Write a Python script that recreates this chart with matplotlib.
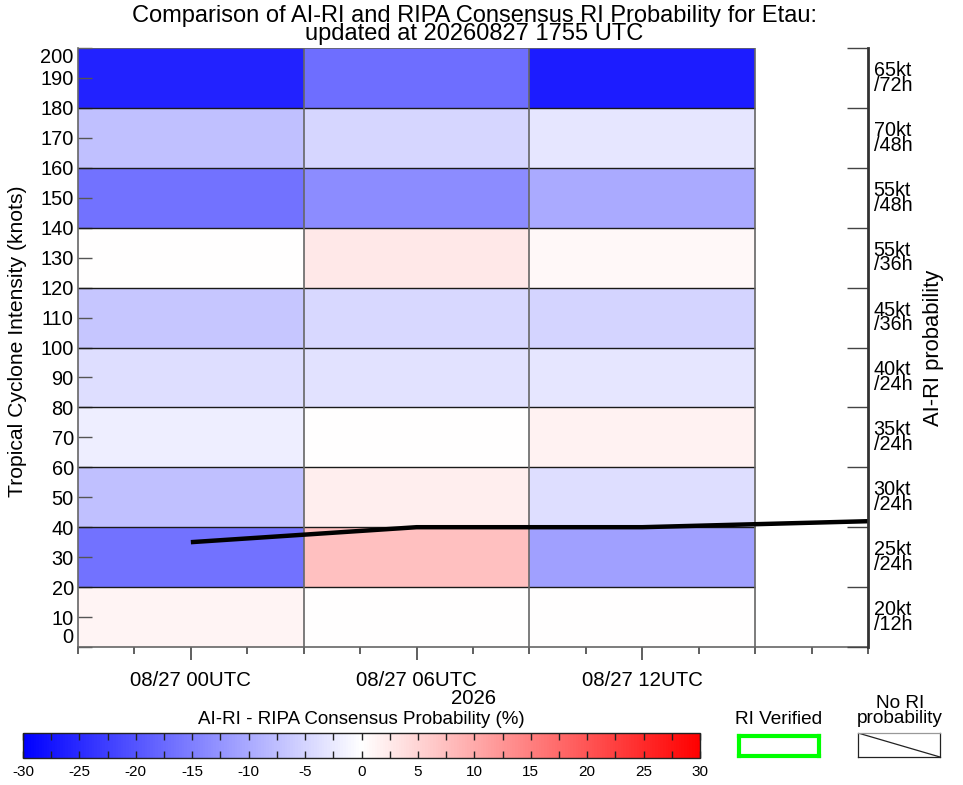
import numpy as np
import matplotlib
matplotlib.use("Agg")
import matplotlib.pyplot as plt
from matplotlib.colors import LinearSegmentedColormap, Normalize
from matplotlib.ticker import MultipleLocator, FixedLocator

plt.rcParams['font.family'] = ['Liberation Sans', 'DejaVu Sans']

# ---------------- data ----------------
col_hours = [0, 6, 12]                       # hours after 08/27 00UTC (cell centres)
bin_edges = [0, 20, 40, 60, 80, 100, 120, 140, 160, 180, 200]
# AI-RI minus RIPA consensus probability (%), per intensity bin, bottom -> top
diff_00utc = [1.4, -16.5, -7.3, -2.0, -3.9, -6.7, 0.0, -16.5, -7.3, -25.8]
diff_06utc = [0.0, 7.4, 2.0, 0.0, -3.4, -4.6, 2.6, -13.5, -4.9, -17.1]
diff_12utc = [0.0, -11.2, -3.9, 1.5, -3.0, -5.0, 0.8, -10.0, -2.9, -26.5]
ri_labels = ["20kt\n/12h", "25kt\n/24h", "30kt\n/24h", "35kt\n/24h", "40kt\n/24h",
             "45kt\n/36h", "55kt\n/36h", "55kt\n/48h", "70kt\n/48h", "65kt\n/72h"]
track_hours = [0, 6, 12, 18]
track_vmax = [35, 40, 40, 42]
xtick_hours = [0, 6, 12]
xtick_labels = ["08/27 00UTC", "08/27 06UTC", "08/27 12UTC"]
yticks = list(range(0, 201, 10))
cbar_ticks = list(range(-30, 31, 5))

W, H = 963, 785
fig = plt.figure(figsize=(W / 100, H / 100), dpi=100)

def fx(px):
    return px / W

def fy(py):
    return 1 - py / H

ax = fig.add_axes([fx(78), fy(647), fx(868) - fx(78), fy(48) - fy(647)])

cmap = LinearSegmentedColormap.from_list("bwr_ai", [(0, 0, 1), (1, 1, 1), (1, 0, 0)], N=256)
norm = Normalize(vmin=-30, vmax=30)

C = np.array([diff_00utc, diff_06utc, diff_12utc]).T
x_edges = [h - 3 for h in col_hours] + [col_hours[-1] + 3]
ax.pcolormesh(x_edges, bin_edges, C, cmap=cmap, norm=norm, shading='flat', zorder=1)

# cell borders
ax.hlines(bin_edges[1:-1], x_edges[0], x_edges[-1], colors='#1a1a1a', lw=1.0, zorder=2)
ax.hlines([bin_edges[-1]], x_edges[0], x_edges[-1], colors='#666666', lw=1.2, zorder=2)
ax.vlines(x_edges[1:], bin_edges[0], bin_edges[-1], colors='#666666', lw=1.2, zorder=2)

# intensity line
ax.plot(track_hours, track_vmax, color='black', lw=3.2, zorder=4, solid_capstyle='butt')

ax.set_xlim(-3, 18)
ax.set_ylim(0, 200)

ax.spines['top'].set_visible(False)
ax.spines['right'].set_visible(False)
ax.spines['left'].set_color('#666666')
ax.spines['bottom'].set_color('#666666')
ax.spines['left'].set_linewidth(1.2)
ax.spines['bottom'].set_linewidth(1.2)

ax.set_yticks(yticks)
ax.set_yticklabels([str(v) for v in yticks])
ax.tick_params(axis='y', direction='in', length=10, width=1, color='#555555',
               labelsize=14.4, pad=3)
for lab in ax.get_yticklabels():
    if lab.get_text() == '0':
        lab.set_va('bottom')
    elif lab.get_text() == '200':
        lab.set_va('top')

ax.set_xticks(xtick_hours)
ax.set_xticklabels(xtick_labels)
ax.xaxis.set_minor_locator(FixedLocator(np.arange(-3, 18.01, 1.5)))
ax.tick_params(axis='x', which='major', direction='out', length=9, width=1.2,
               color='#444444', labelsize=14.7, pad=8)
ax.tick_params(axis='x', which='minor', direction='out', length=5, width=1.2, color='#444444')
ax.set_xlabel("2026", fontsize=14.7)
ax.xaxis.set_label_coords(0.5, -0.0705)
ax.set_ylabel("Tropical Cyclone Intensity (knots)", fontsize=15.2)
ax.yaxis.set_label_coords(-0.0645, 0.51)

# right axis with RI thresholds
ax2 = ax.twinx()
ax2.set_ylim(0, 200)
for s in ['top', 'left', 'bottom']:
    ax2.spines[s].set_visible(False)
ax2.spines['right'].set_color('#333333')
ax2.spines['right'].set_linewidth(2)
ax2.set_yticks(bin_edges)
ax2.set_yticklabels([''] * len(bin_edges))
ax2.tick_params(axis='y', which='major', direction='in', length=15, width=1, color='#444444')
centers = [(bin_edges[i] + bin_edges[i + 1]) / 2 for i in range(len(ri_labels))]
ax2.set_yticks(centers, minor=True)
ax2.set_yticklabels(ri_labels, minor=True)
ax2.tick_params(axis='y', which='minor', length=0, labelsize=14.2, pad=4)
for lab in ax2.get_yticklabels(minor=True):
    lab.set_linespacing(0.72)

fig.text(fx(933), fy(348), "AI-RI probability", rotation=90, ha='center', va='center', fontsize=15.8)

# title
fig.text(fx(474), fy(5), "Comparison of AI-RI and RIPA Consensus RI Probability for Etau:\nupdated at 20260827 1755 UTC",
         ha='center', va='top', fontsize=17, linespacing=0.78)

# colorbar
cax = fig.add_axes([fx(23), fy(758), fx(700) - fx(23), fy(733) - fy(758)])
sm = matplotlib.cm.ScalarMappable(norm=norm, cmap=cmap)
cb = fig.colorbar(sm, cax=cax, orientation='horizontal', ticks=cbar_ticks)
cb.ax.xaxis.set_minor_locator(MultipleLocator(2.5))
cb.ax.tick_params(which='both', direction='in', top=True, bottom=True, length=5, width=1,
                  color='#222222', labelsize=11, pad=5)
cb.ax.set_xticklabels([str(t) for t in cbar_ticks])
cb.outline.set_linewidth(1)
cb.outline.set_edgecolor('#222222')
fig.text(fx(361.5), fy(719), "AI-RI - RIPA Consensus Probability (%)", ha='center', va='center', fontsize=13.5)

# legend boxes
fig.text(fx(779), fy(719), "RI Verified", ha='center', va='center', fontsize=13.7)
gax = fig.add_axes([fx(739), fy(756), fx(819) - fx(739), fy(736) - fy(756)])
gax.set_xticks([]); gax.set_yticks([])
for s in gax.spines.values():
    s.set_color('#00ff00'); s.set_linewidth(3)

fig.text(fx(900), fy(711), "No RI\nprobability", ha='center', va='center', fontsize=13.7, linespacing=0.78)
nax = fig.add_axes([fx(858), fy(757), fx(940) - fx(858), fy(733) - fy(757)])
nax.set_xticks([]); nax.set_yticks([])
nax.set_xlim(0, 1); nax.set_ylim(0, 1)
nax.plot([0, 1], [1, 0], color='#222222', lw=0.9)
for s in nax.spines.values():
    s.set_color('#222222'); s.set_linewidth(0.9)
nax.spines['top'].set_color('#999999')

fig.savefig("out.png", dpi=100)
